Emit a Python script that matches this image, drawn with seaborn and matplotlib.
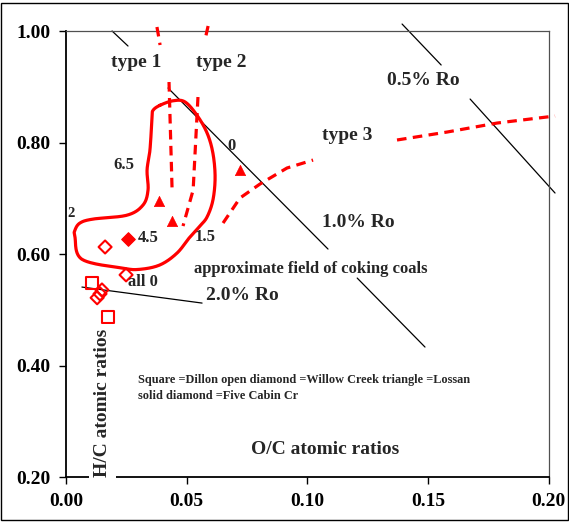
import numpy as np
import pandas as pd
import matplotlib
matplotlib.use("Agg")
import matplotlib.pyplot as plt
from matplotlib.patches import Rectangle
import seaborn as sns

# ---- sample analyses: O/C and H/C atomic ratios ----
dillon_oc = [0.0108, 0.0174]
dillon_hc = [0.548, 0.487]
willow_oc = [0.0162, 0.0249, 0.0149, 0.0141, 0.0129]
willow_hc = [0.613, 0.563, 0.536, 0.529, 0.522]
lossan_oc = [0.0386, 0.0439, 0.0721]
lossan_hc = [0.695, 0.660, 0.751]
fivecabin_oc = [0.0257]
fivecabin_hc = [0.627]

# ---- approximate field of coking coals (closed boundary) ----
field_oc = [0.0390, 0.0444, 0.0493, 0.0543, 0.0585, 0.0609, 0.0618, 0.0609,
            0.0585, 0.0556, 0.0514, 0.0460, 0.0390, 0.0307, 0.0236, 0.0066,
            0.0037, 0.0037, 0.0058, 0.0112, 0.0253, 0.0319, 0.0340, 0.0336,
            0.0348, 0.0357, 0.0361]
field_hc = [0.867, 0.875, 0.873, 0.849, 0.817, 0.781, 0.738, 0.697,
            0.667, 0.651, 0.631, 0.602, 0.581, 0.573, 0.575, 0.591,
            0.631, 0.643, 0.656, 0.663, 0.670, 0.688, 0.715, 0.751,
            0.787, 0.846, 0.858]

# ---- vitrinite reflectance isolines (NaN = break under a label) ----
ro05_oc = [0.1393, 0.1555, np.nan, 0.1675, 0.2027]
ro05_hc = [1.0125, 0.9391, np.nan, 0.8781, 0.7097]
ro10_oc = [0.0191, 0.0257, np.nan, 0.0423, 0.1086, np.nan, 0.1207, 0.1488]
ro10_hc = [1.0000, 0.9731, np.nan, 0.8978, 0.6093, np.nan, 0.5573, 0.4337]
ro20_oc = [0.0066, 0.0564]
ro20_hc = [0.5412, 0.5125]

# ---- kerogen type evolution paths ----
type1_oc = [0.0377, 0.0390, np.nan, 0.0427, 0.0440]
type1_hc = [1.0072, 0.9749, np.nan, 0.9086, 0.7115]
type2_oc = [0.0589, 0.0576, np.nan, 0.0547, 0.0527, 0.0485]
type2_hc = [1.0090, 0.9839, np.nan, 0.8817, 0.7151, 0.6505]
type3_oc = [0.0651, 0.0721, 0.0804, 0.0916, 0.1024, np.nan,
            0.1372, 0.1580, 0.1787, 0.2027]
type3_hc = [0.6559, 0.7007, 0.7258, 0.7545, 0.7688, np.nan,
            0.8047, 0.8190, 0.8351, 0.8477]

x_ticks = [0.00, 0.05, 0.10, 0.15, 0.20]
y_ticks = [0.20, 0.40, 0.60, 0.80, 1.00]


def closed_curve(xs, ys, n=24):
    """Smooth closed Catmull-Rom curve through the given vertices."""
    P = np.column_stack([xs, ys])
    N = len(P)
    t = np.linspace(0, 1, n, endpoint=False)[:, None]
    out = []
    for i in range(N):
        p0, p1, p2, p3 = P[i - 1], P[i], P[(i + 1) % N], P[(i + 2) % N]
        out.append(0.5 * (2 * p1 + (-p0 + p2) * t
                          + (2 * p0 - 5 * p1 + 4 * p2 - p3) * t ** 2
                          + (-p0 + 3 * p1 - 3 * p2 + p3) * t ** 3))
    out.append(P[:1])
    c = np.vstack(out)
    return c[:, 0], c[:, 1]


sns.set_style("ticks")
plt.rcParams["font.family"] = ["Liberation Serif", "DejaVu Serif"]
plt.rcParams["font.weight"] = "bold"

fig = plt.figure(figsize=(5.69, 5.22), dpi=100)
ax = fig.add_axes([0.116, 0.0853, 0.848, 0.8553])

RED = "#ff0000"

# coking-coal field
fx, fy = closed_curve(field_oc, field_hc)
ax.plot(fx, fy, color=RED, lw=2.3, solid_capstyle="round", zorder=3)

# reflectance isolines
for xs, ys in [(ro05_oc, ro05_hc), (ro10_oc, ro10_hc), (ro20_oc, ro20_hc)]:
    ax.plot(xs, ys, color="black", lw=0.9, clip_on=False, zorder=2)

# evolution paths
for xs, ys in [(type1_oc, type1_hc), (type2_oc, type2_hc), (type3_oc, type3_hc)]:
    ax.plot(xs, ys, color=RED, lw=2.3, dashes=(3, 2), clip_on=False, zorder=3)

# samples
sns.scatterplot(x=dillon_oc, y=dillon_hc, marker="s", s=70, color=RED,
                facecolor="none", edgecolor=RED, linewidth=1.5, ax=ax, zorder=4)
sns.scatterplot(x=willow_oc, y=willow_hc, marker="D", s=44, color=RED,
                facecolor="none", edgecolor=RED, linewidth=1.5, ax=ax, zorder=4)
sns.scatterplot(x=lossan_oc, y=lossan_hc, marker="^", s=55, color=RED,
                edgecolor=RED, linewidth=0.5, ax=ax, zorder=4)
sns.scatterplot(x=fivecabin_oc, y=fivecabin_hc, marker="D", s=48, color=RED,
                edgecolor=RED, linewidth=0.8, ax=ax, zorder=4)

ax.set_xlim(0, 0.2)
ax.set_ylim(0.2, 1.0)
ax.set_xticks(x_ticks)
ax.set_yticks(y_ticks)
ax.set_xticklabels([f"{v:.2f}" for v in x_ticks])
ax.set_yticklabels([f"{v:.2f}" for v in y_ticks])
ax.tick_params(axis="both", direction="out", length=5, width=1.0,
               labelsize=14, pad=6, colors="black")
for lab in ax.get_xticklabels() + ax.get_yticklabels():
    lab.set_fontweight("bold")
ax.set_xlabel("")
ax.set_ylabel("")

for side in ["left", "bottom"]:
    ax.spines[side].set_color("black")
    ax.spines[side].set_linewidth(1.3)
for side in ["top", "right"]:
    ax.spines[side].set_visible(True)
    ax.spines[side].set_color("#505050")
    ax.spines[side].set_linewidth(0.9)

big = dict(fontsize=14, fontweight="bold", ha="center", va="center", zorder=6)
mid = dict(fontsize=12, fontweight="bold", ha="center", va="center", zorder=6)

ax.text(0.0290, 0.9444, "type 1", **big)
ax.text(0.0643, 0.9444, "type 2", **big)
ax.text(0.1480, 0.9122, "0.5% Ro", **big)
ax.text(0.1165, 0.8136, "type 3", **big)
ax.text(0.1211, 0.6577, "1.0% Ro", **big)
ax.text(0.0730, 0.5269, "2.0% Ro", **big)
ax.text(0.1016, 0.5735, "approximate field of coking coals", **mid)
ax.text(0.0241, 0.7599, "6.5", **mid)
ax.text(0.0684, 0.7939, "0", **mid)
ax.text(0.0021, 0.6738, "2", fontsize=10.5, fontweight="bold",
        ha="center", va="center", zorder=6)
ax.text(0.0340, 0.6290, "4.5", **mid)
ax.text(0.0576, 0.6308, "1.5", **mid)
ax.text(0.0319, 0.5502, "all 0", **mid)

ax.text(0.0299, 0.3746,
        "Square =Dillon open diamond =Willow Creek triangle =Lossan",
        fontsize=8.8, fontweight="bold", ha="left", va="center", zorder=6)
ax.text(0.0299, 0.3459, "solid diamond =Five Cabin Cr",
        fontsize=8.8, fontweight="bold", ha="left", va="center", zorder=6)

ax.text(0.1074, 0.2509, "O/C atomic ratios", **big)
ax.text(0.0152, 0.3333, "H/C atomic ratios", rotation=90, fontsize=14,
        fontweight="bold", ha="center", va="center", zorder=7, clip_on=False,
        bbox=dict(boxstyle="square,pad=0.25", facecolor="white",
                  edgecolor="none"))

# outer frame of the figure
fig.patches.append(Rectangle((0.0026, 0.0038), 0.9948, 0.9895,
                             transform=fig.transFigure, fill=False,
                             edgecolor="black", linewidth=1.0))

fig.savefig("out.png", dpi=100)
